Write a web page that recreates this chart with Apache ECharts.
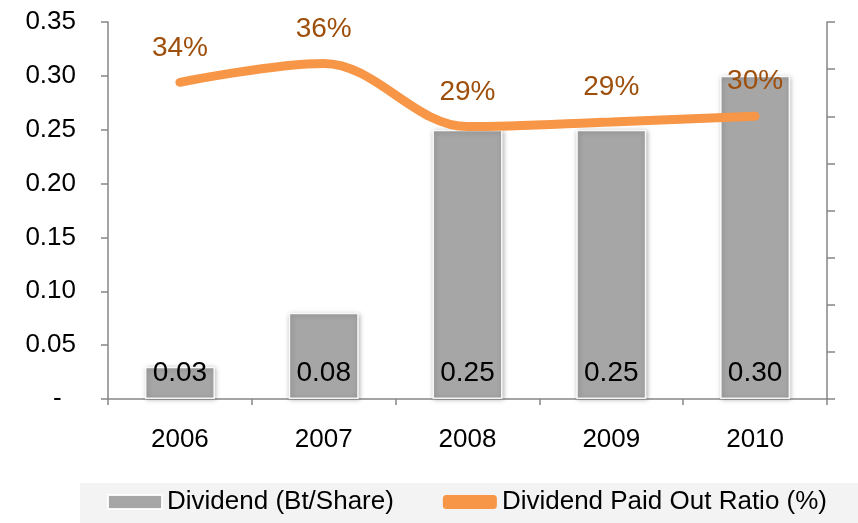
<!DOCTYPE html>
<html>
<head>
<meta charset="utf-8">
<script src="https://cdn.jsdelivr.net/npm/echarts@6/dist/echarts.min.js"></script>
<style>
  html, body { margin: 0; padding: 0; background: #fff; }
  #chart { width: 858px; height: 523px; }
</style>
</head>
<body>
<div id="chart"></div>
<script>
var years = ['2006', '2007', '2008', '2009', '2010'];
var dividend = [0.03, 0.08, 0.25, 0.25, 0.30];
var payoutRatio = [33.6, 35.6, 28.9, 29.4, 30.0];

var FONT = 'Liberation Sans, Arial, sans-serif';
var AXIS = '#868686';

function drawChart () {
  var chartDom = document.getElementById('chart');
  var myChart = echarts.init(chartDom);
  var option;

  option = {
    animation: false,
    textStyle: { fontFamily: FONT },
    grid: { left: 108, right: 31, top: 22, bottom: 124 },
    graphic: [
      {
        type: 'rect',
        left: 80, top: 483,
        shape: { width: 778, height: 40 },
        style: { fill: '#f3f3f3' },
        z: -1
      }
    ],
    legend: {
      left: 107,
      top: 489,
      padding: 0,
      itemWidth: 54,
      itemHeight: 14,
      itemGap: 49,
      textStyle: { fontSize: 26, color: '#000', fontFamily: FONT },
      data: [
        { name: 'Dividend (Bt/Share)', icon: 'rect' },
        { name: 'Dividend Paid Out Ratio (%)', icon: 'roundRect' }
      ]
    },
    xAxis: {
      type: 'category',
      data: years,
      axisLine: { lineStyle: { color: AXIS, width: 1.5 } },
      axisTick: { show: true, length: 6, lineStyle: { color: AXIS, width: 1.5 } },
      axisLabel: { fontSize: 26, color: '#000', margin: 28, fontFamily: FONT }
    },
    yAxis: [
      {
        type: 'value',
        min: 0,
        max: 0.35,
        interval: 0.05,
        splitLine: { show: false },
        axisLine: { show: true, lineStyle: { color: AXIS, width: 1.5 } },
        axisTick: { show: true, length: 7, lineStyle: { color: AXIS, width: 1.5 } },
        axisLabel: {
          fontSize: 26, color: '#000', margin: 32, fontFamily: FONT,
          formatter: function (v) { return v === 0 ? '-  ' : v.toFixed(2); }
        }
      },
      {
        type: 'value',
        min: 0,
        max: 40,
        interval: 5,
        position: 'right',
        splitLine: { show: false },
        axisLine: { show: true, lineStyle: { color: AXIS, width: 1.5 } },
        axisTick: { show: true, length: 8, lineStyle: { color: AXIS, width: 1.5 } },
        axisLabel: { show: false }
      }
    ],
    series: [
      {
        name: 'Dividend (Bt/Share)',
        type: 'bar',
        barWidth: 70,
        data: dividend,
        itemStyle: {
          color: '#a6a6a6',
          borderColor: 'rgba(255,255,255,0.9)',
          borderWidth: 1.5,
          shadowColor: 'rgba(0,0,0,0.3)',
          shadowBlur: 5,
          shadowOffsetX: 1,
          shadowOffsetY: 1
        },
        label: {
          show: true,
          position: 'insideBottom',
          distance: 12,
          fontSize: 28,
          color: '#000',
          fontFamily: FONT,
          formatter: function (p) { return p.value.toFixed(2); }
        }
      },
      {
        name: 'Dividend Paid Out Ratio (%)',
        type: 'line',
        yAxisIndex: 1,
        smooth: 0.35,
        data: payoutRatio,
        symbol: 'circle',
        symbolSize: 1,
        color: '#f79646',
        lineStyle: { color: '#f79646', width: 9, cap: 'round' },
        itemStyle: { color: '#f79646' },
        label: {
          show: true,
          position: 'top',
          distance: 20,
          fontSize: 28,
          color: '#9e4f0c',
          fontFamily: FONT,
          formatter: function (p) { return Math.round(p.value) + '%'; }
        },
        z: 5
      }
    ]
  };

  option && myChart.setOption(option);
}

drawChart()
</script>
</body>
</html>
